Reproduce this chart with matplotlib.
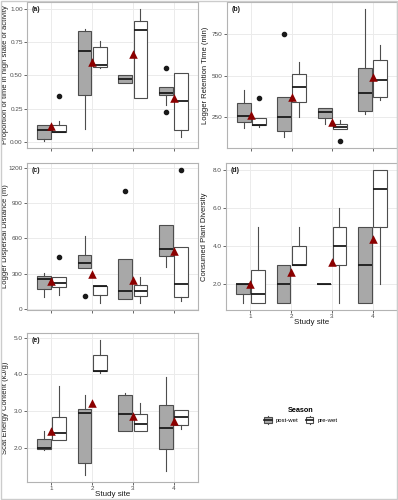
import matplotlib
matplotlib.use("Agg")
import matplotlib.pyplot as plt
import numpy as np
from matplotlib.patches import Rectangle, Patch
from matplotlib.lines import Line2D
from matplotlib.legend_handler import HandlerBase

plt.rcParams['font.family'] = ['Liberation Sans', 'DejaVu Sans']

sites = [1, 2, 3, 4]
seasons = ['post-wet', 'pre-wet']

# box stats per site: [whisker low, q1, median, q3, whisker high]
a_post = [[0.005, 0.02, 0.09, 0.13, 0.13], [0.10, 0.35, 0.68, 0.83, 0.845],
          [0.44, 0.44, 0.47, 0.50, 0.50], [0.28, 0.35, 0.37, 0.41, 0.41]]
a_post_out = [[], [], [], [0.555, 0.227]]
a_pre = [[0.077, 0.077, 0.077, 0.13, 0.16], [0.555, 0.56, 0.58, 0.71, 0.76],
         [0.33, 0.33, 0.84, 0.91, 1.00], [0.04, 0.09, 0.31, 0.52, 0.52]]
a_pre_out = [[0.346], [], [], []]
a_mean = [0.12, 0.60, 0.66, 0.33]

b_post = [[185, 221, 260, 338, 415], [136, 170, 250, 372, 372],
          [211, 248, 283, 307, 307], [268, 291, 397, 548, 901]]
b_post_out = [[], [748], [], []]
b_pre = [[195, 203, 205, 244, 244], [254, 342, 430, 509, 583],
         [180, 180, 195, 209, 232], [352, 374, 472, 591, 685]]
b_pre_out = [[366], [], [107], []]
b_mean = [264, 374, 223, 491]

c_post = [[99, 170, 255, 278, 303], [349, 349, 391, 462, 618],
          [85, 85, 156, 425, 425], [355, 454, 511, 709, 709]]
c_post_out = [[], [113], [1000], []]
c_pre = [[119, 190, 218, 275, 275], [51, 119, 193, 193, 193],
         [48, 113, 150, 207, 270], [71, 105, 213, 530, 530]]
c_pre_out = [[445], [], [], [1183]]
c_mean = [235, 298, 245, 496]

d_post = [[1.0, 1.5, 2.0, 2.0, 2.0], [1.0, 1.0, 2.0, 3.0, 3.0],
          [2.0, 2.0, 2.0, 2.0, 2.0], [1.0, 1.0, 3.0, 5.0, 5.0]]
d_post_out = [[], [], [], []]
d_pre = [[1.0, 1.0, 1.5, 2.75, 5.0], [3.0, 3.0, 3.0, 4.0, 5.0],
         [1.0, 3.0, 4.0, 5.0, 6.0], [2.0, 5.0, 7.0, 8.0, 8.0]]
d_pre_out = [[], [], [], []]
d_mean = [2.0, 2.64, 3.16, 4.37]

e_post = [[1.95, 1.98, 2.0, 2.25, 2.46], [1.27, 1.6, 2.96, 3.07, 3.45],
          [2.48, 2.48, 2.94, 3.44, 3.51], [1.39, 1.98, 2.55, 3.17, 3.93]]
e_post_out = [[], [], [], []]
e_pre = [[2.23, 2.23, 2.41, 2.85, 3.68], [4.05, 4.09, 4.09, 4.52, 4.94],
         [2.46, 2.46, 2.66, 2.94, 3.22], [2.53, 2.64, 2.84, 3.03, 3.05]]
e_pre_out = [[], [], [], []]
e_mean = [2.48, 3.22, 2.87, 2.73]

post_color = '#A8A8A8'
pre_color = 'white'
edge_color = '#4D4D4D'
frame_color = '#B3B3B3'
mean_color = '#8B0000'

W, H = 398, 500
fig = plt.figure(figsize=(W / 100, H / 100), dpi=100)


def make_ax(left, top, right, bottom):
    ax = fig.add_axes([left / W, 1 - bottom / H, (right - left) / W, (bottom - top) / H])
    ax.px = (left, top, right, bottom)
    return ax


def to_stats(rows, outs):
    return [dict(whislo=r[0], q1=r[1], med=r[2], q3=r[3], whishi=r[4], fliers=o)
            for r, o in zip(rows, outs)]


def panel(ax, post, post_out, pre, pre_out, mean, letter, ylabel, yticks, fmt, xlabels):
    for rows, outs, off, fc in [(post, post_out, -0.1875, post_color),
                                (pre, pre_out, 0.1875, pre_color)]:
        ax.bxp(to_stats(rows, outs), positions=np.array(sites) + off, widths=0.34,
               patch_artist=True, showcaps=False,
               boxprops=dict(facecolor=fc, edgecolor=edge_color, linewidth=0.8),
               medianprops=dict(color='#1A1A1A', linewidth=1.3),
               whiskerprops=dict(color=edge_color, linewidth=0.8),
               flierprops=dict(marker='o', markerfacecolor='#1A1A1A',
                               markeredgecolor='#1A1A1A', markersize=3),
               manage_ticks=False, zorder=3)
    ax.scatter(sites, mean, marker='^', s=38, color=mean_color, zorder=5, linewidths=0)

    # y range with 5% expansion of data range
    vals = [v for r in post + pre for v in r]
    vals += [v for o in post_out + pre_out for v in o] + list(mean)
    lo, hi = min(vals), max(vals)
    pad = 0.05 * (hi - lo)
    ax.set_ylim(lo - pad, hi + pad)
    ax.set_xlim(0.4, 4.6)
    ax.set_yticks(yticks)
    ax.set_yticklabels([fmt.format(t) for t in yticks])
    ax.set_xticks(sites)
    left, top, right, bottom = ax.px
    if xlabels:
        ax.set_xticklabels([str(s) for s in sites])
        ax.set_xlabel('Study site', fontsize=5.8, color='#1A1A1A')
        ax.xaxis.set_label_coords(0.5, -9 / (bottom - top))
    else:
        ax.set_xticklabels([])
    ax.set_ylabel(ylabel, fontsize=5.5, color='#1A1A1A')
    # right edge of the rotated label, 18 px left of the axes
    ax.yaxis.set_label_coords(-18 / (right - left), 0.5)
    ax.tick_params(labelsize=4.6, colors='#4D4D4D', length=2, width=0.6, pad=1)
    ax.minorticks_off()
    ax.grid(True, color='#EBEBEB', linewidth=0.7, zorder=0)
    ax.set_axisbelow(True)
    for s in ax.spines.values():
        s.set_color(frame_color)
        s.set_linewidth(0.8)
    ax.text(0.025, 0.975, letter, transform=ax.transAxes, fontsize=5,
            fontweight='bold', va='top', ha='left', color='#1A1A1A')


ax_a = make_ax(27, 2, 198, 148)
ax_b = make_ax(227, 2, 397, 148)
ax_c = make_ax(27, 163, 198, 310)
ax_d = make_ax(226, 163, 397, 310)
ax_e = make_ax(27, 333, 198, 482)

panel(ax_a, a_post, a_post_out, a_pre, a_pre_out, a_mean, '(a)',
      'Proportion of time in high state of activity', [0, 0.25, 0.5, 0.75, 1.0], '{:.2f}', False)
panel(ax_b, b_post, b_post_out, b_pre, b_pre_out, b_mean, '(b)',
      'Logger Retention Time (min)', [250, 500, 750], '{:.0f}', False)
panel(ax_c, c_post, c_post_out, c_pre, c_pre_out, c_mean, '(c)',
      'Logger Dispersal Distance (m)', [0, 300, 600, 900, 1200], '{:.0f}', False)
panel(ax_d, d_post, d_post_out, d_pre, d_pre_out, d_mean, '(d)',
      'Consumed Plant Diversity', [2, 4, 6, 8], '{:.1f}', True)
panel(ax_e, e_post, e_post_out, e_pre, e_pre_out, e_mean, '(e)',
      'Scat Energy Content (kJ/g)', [2, 3, 4, 5], '{:.1f}', True)


class BoxKey(HandlerBase):
    def create_artists(self, legend, orig_handle, xdescent, ydescent, width, height,
                       fontsize, trans):
        x0, y0 = -xdescent, -ydescent
        xm = x0 + width / 2
        arts = [Line2D([xm, xm], [y0 - 0.25 * height, y0 + 1.25 * height], color=edge_color, lw=0.8),
                Rectangle((x0 + 0.1 * width, y0), 0.8 * width, height,
                          facecolor=orig_handle.get_facecolor(), edgecolor=edge_color, lw=0.8),
                Line2D([x0 + 0.1 * width, x0 + 0.9 * width], [y0 + height / 2] * 2,
                       color='#1A1A1A', lw=1.2)]
        for a in arts:
            a.set_transform(trans)
        return arts


handles = [Patch(facecolor=post_color), Patch(facecolor=pre_color)]
leg = fig.legend(handles, seasons, handler_map={Patch: BoxKey()}, loc='center',
                 bbox_to_anchor=(0.755, 1 - 415 / H), ncol=2, frameon=False,
                 fontsize=4.3, title='Season', handlelength=1.6, handleheight=1.1,
                 columnspacing=1.0, handletextpad=0.6)
leg.get_title().set_fontweight('bold')
leg.get_title().set_fontsize(5.2)

fig.patches.append(Rectangle((0.002, 0.003), 0.996, 0.995, transform=fig.transFigure,
                             fill=False, edgecolor='#CCCCCC', linewidth=1))

fig.savefig('out.png', dpi=100)
